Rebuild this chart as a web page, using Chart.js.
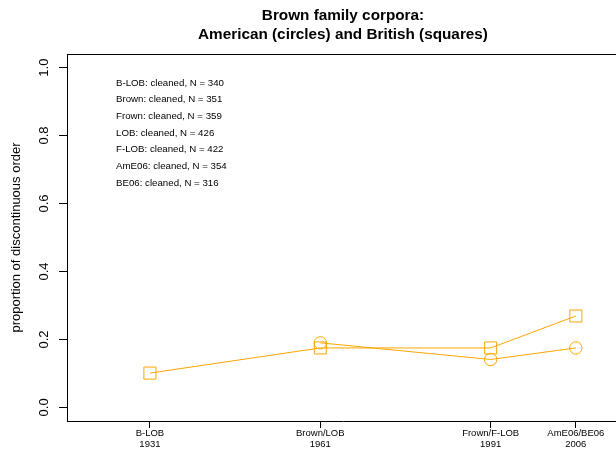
<!DOCTYPE html>
<html>
<head>
<meta charset="utf-8">
<script src="https://cdn.jsdelivr.net/npm/chart.js@4"></script>
<style>
  html, body { margin: 0; padding: 0; overflow: hidden; background: #fff; }
</style>
</head>
<body>
<canvas id="chart" width="619" height="449"></canvas>
<script>
// Corpus periods on the x axis
const years = [1931, 1961, 1991, 2006];
const corpusNames = ['B-LOB', 'Brown/LOB', 'Frown/F-LOB', 'AmE06/BE06'];

// Proportion of discontinuous order (null = no corpus)
const american = [null, 0.190, 0.141, 0.175];   // circles
const british = [0.101, 0.175, 0.175, 0.269];   // squares

const yTicks = [0, 0.2, 0.4, 0.6, 0.8, 1.0];

const titleLines = ['Brown family corpora:', 'American (circles) and British (squares)'];
const notes = [
    'B-LOB: cleaned, N = 340',
    'Brown: cleaned, N = 351',
    'Frown: cleaned, N = 359',
    'LOB: cleaned, N = 426',
    'F-LOB: cleaned, N = 422',
    'AmE06: cleaned, N = 354',
    'BE06: cleaned, N = 316'
];

const FONT = "'Liberation Sans', Arial, Helvetica, sans-serif";
const ORANGE = '#FFA500';

// turn a series into {x, y} points, skipping gaps
function toPoints(values) {
    const pts = [];
    values.forEach(function(v, i) {
        if (v !== null) pts.push({ x: years[i], y: v });
    });
    return pts;
}

// draws the title, the note block and the top edge of the box
const extras = {
    id: 'extras',
    afterDraw: function(chart) {
        const ctx = chart.ctx;
        const area = chart.chartArea;
        ctx.save();

        // top edge of the plot box
        ctx.strokeStyle = '#000';
        ctx.lineWidth = 1;
        ctx.beginPath();
        ctx.moveTo(area.left, area.top + 0.5);
        ctx.lineTo(area.right, area.top + 0.5);
        ctx.stroke();

        // title
        ctx.fillStyle = '#000';
        ctx.textAlign = 'center';
        ctx.textBaseline = 'middle';
        ctx.font = 'bold 15.3px ' + FONT;
        const cx = (area.left + area.right) / 2;
        ctx.fillText(titleLines[0], cx, 16);
        ctx.fillText(titleLines[1], cx, 35);

        // notes
        ctx.textAlign = 'left';
        ctx.font = '9.7px ' + FONT;
        notes.forEach(function(t, i) {
            ctx.fillText(t, 116, 83 + i * 16.7);
        });
        ctx.restore();
    }
};

new Chart(document.getElementById('chart'), {
    type: 'line',
    data: {
        datasets: [
            {
                label: 'American',
                data: toPoints(american),
                borderColor: ORANGE,
                borderWidth: 1,
                pointStyle: 'circle',
                pointRadius: 6.2,
                pointBorderColor: ORANGE,
                pointBackgroundColor: 'rgba(0,0,0,0)',
                pointBorderWidth: 1,
                tension: 0
            },
            {
                label: 'British',
                data: toPoints(british),
                borderColor: ORANGE,
                borderWidth: 1,
                pointStyle: 'rect',
                pointRadius: 8.5,
                pointBorderColor: ORANGE,
                pointBackgroundColor: 'rgba(0,0,0,0)',
                pointBorderWidth: 1,
                tension: 0
            }
        ]
    },
    options: {
        responsive: false,
        animation: false,
        layout: { autoPadding: false, padding: { top: 54, left: 0, right: 0, bottom: 0 } },
        plugins: {
            legend: { display: false },
            title: { display: false },
            tooltip: { enabled: false }
        },
        scales: {
            x: {
                type: 'linear',
                min: 1916.4,
                max: 2013.6,
                afterBuildTicks: function(scale) {
                    scale.ticks = years.map(function(y) { return { value: y }; });
                },
                afterFit: function(scale) {
                    scale.height = 28;
                    scale.paddingLeft = 0;
                    scale.paddingRight = 0;
                },
                ticks: {
                    color: '#000',
                    font: { family: FONT, size: 9.5, lineHeight: 1.15 },
                    padding: 0,
                    maxRotation: 0,
                    autoSkip: false,
                    callback: function(v) {
                        const i = years.indexOf(v);
                        return i >= 0 ? [corpusNames[i], String(years[i])] : '';
                    }
                },
                grid: { drawOnChartArea: false, drawTicks: true, tickLength: 7, color: '#000' },
                border: { display: true, color: '#000', width: 1 }
            },
            y: {
                min: -0.04,
                max: 1.04,
                afterBuildTicks: function(scale) {
                    scale.ticks = yTicks.map(function(v) { return { value: v }; });
                },
                afterFit: function(scale) {
                    scale.width = 67;
                    scale.paddingTop = 0;
                    scale.paddingBottom = 0;
                },
                ticks: {
                    color: '#000',
                    font: { family: FONT, size: 13 },
                    minRotation: 90,
                    maxRotation: 90,
                    crossAlign: 'center',
                    padding: 6,
                    callback: function(v) { return v.toFixed(1); }
                },
                title: {
                    display: true,
                    text: 'proportion of discontinuous order',
                    color: '#000',
                    font: { family: FONT, size: 13 },
                    padding: { top: 9, bottom: 0 }
                },
                grid: { drawOnChartArea: false, drawTicks: true, tickLength: 8, color: '#000' },
                border: { display: true, color: '#000', width: 1 }
            }
        }
    },
    plugins: [extras]
});
</script>
</body>
</html>
